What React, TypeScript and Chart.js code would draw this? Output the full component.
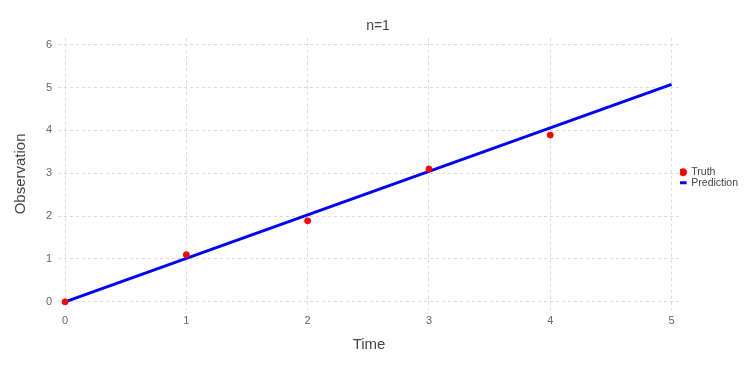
import React, { useEffect, useRef } from "react";
import { Chart, registerables } from "chart.js";

Chart.register(...registerables);

const titleText = "n=1";
const xTitle = "Time";
const yTitle = "Observation";
const truthTimes = [0, 1, 2, 3, 4];
const truthValues = [0, 1.1, 1.89, 3.1, 3.89];
const predTimes = [0, 1, 2, 3, 4, 5];
const predValues = [0, 1.015, 2.03, 3.045, 4.06, 5.075];
const xTicks = [0, 1, 2, 3, 4, 5];
const yTicks = [0, 1, 2, 3, 4, 5, 6];

const FONT = "'Liberation Sans', Arial, Helvetica, sans-serif";
const GRID = "#d9d9e6";

export default function App() {
  const ref = useRef<HTMLCanvasElement | null>(null);
  useEffect(() => {
    if (!ref.current) return;
    const chart = new Chart(ref.current, {
      type: "scatter",
      data: {
        datasets: [
          {
            label: "Truth",
            data: truthTimes.map((t, i) => ({ x: t, y: truthValues[i] })),
            backgroundColor: "#ff0000",
            borderColor: "#ff0000",
            pointRadius: 3,
            pointHoverRadius: 3,
            showLine: false,
            pointStyle: "circle",
          },
          {
            label: "Prediction",
            data: predTimes.map((t, i) => ({ x: t, y: predValues[i] })),
            backgroundColor: "#0000ff",
            borderColor: "#0000ff",
            borderWidth: 3,
            pointRadius: 0,
            showLine: true,
            pointStyle: "line",
          },
        ],
      },
      options: {
        responsive: false,
        animation: false,
        layout: { padding: 0 },
        plugins: {
          tooltip: { enabled: false },
          title: {
            display: true,
            text: titleText,
            color: "#444",
            font: { family: FONT, size: 14, weight: "normal" },
            padding: { top: 10, bottom: 3 },
          },
          legend: {
            position: "right",
            align: "center",
            fullSize: false,
            title: {
              display: true,
              text: " ",
              font: { size: 1 },
              padding: { top: 3, bottom: 3 },
            },
            labels: {
              usePointStyle: true,
              boxWidth: 6,
              boxHeight: 5,
              padding: 0,
              color: "#444",
              font: { family: FONT, size: 10.5 },
            },
          },
        },
        scales: {
          x: {
            type: "linear",
            min: -0.058,
            max: 5.07,
            afterBuildTicks: (s: any) => {
              s.ticks = xTicks.map((v) => ({ value: v }));
            },
            afterFit: (s: any) => {
              s.height = 60;
            },
            border: { display: false, dash: [3, 3] },
            grid: {
              color: GRID,
              drawTicks: false,
              tickLength: 0,
            },
            ticks: {
              color: "#666",
              padding: 4,
              font: { family: FONT, size: 11 },
            },
            title: {
              display: true,
              text: xTitle,
              color: "#444",
              font: { family: FONT, size: 15 },
              padding: { top: 4, bottom: 16 },
            },
          },
          y: {
            type: "linear",
            min: -0.19,
            max: 6.16,
            afterBuildTicks: (s: any) => {
              s.ticks = yTicks.map((v) => ({ value: v }));
            },
            afterFit: (s: any) => {
              s.width = 50;
            },
            border: { display: false, dash: [3, 3] },
            grid: {
              color: GRID,
              drawTicks: false,
              tickLength: 0,
            },
            ticks: {
              color: "#666",
              padding: 6,
              font: { family: FONT, size: 11 },
            },
            title: {
              display: true,
              text: yTitle,
              color: "#444",
              font: { family: FONT, size: 15 },
              padding: { bottom: 8 },
            },
          },
        },
      },
    } as any);
    return () => chart.destroy();
  }, []);
  return (
    <div style={{ width: 740, height: 362 }}>
      <canvas ref={ref} width={740} height={362} style={{ width: 740, height: 362 }} />
    </div>
  );
}
